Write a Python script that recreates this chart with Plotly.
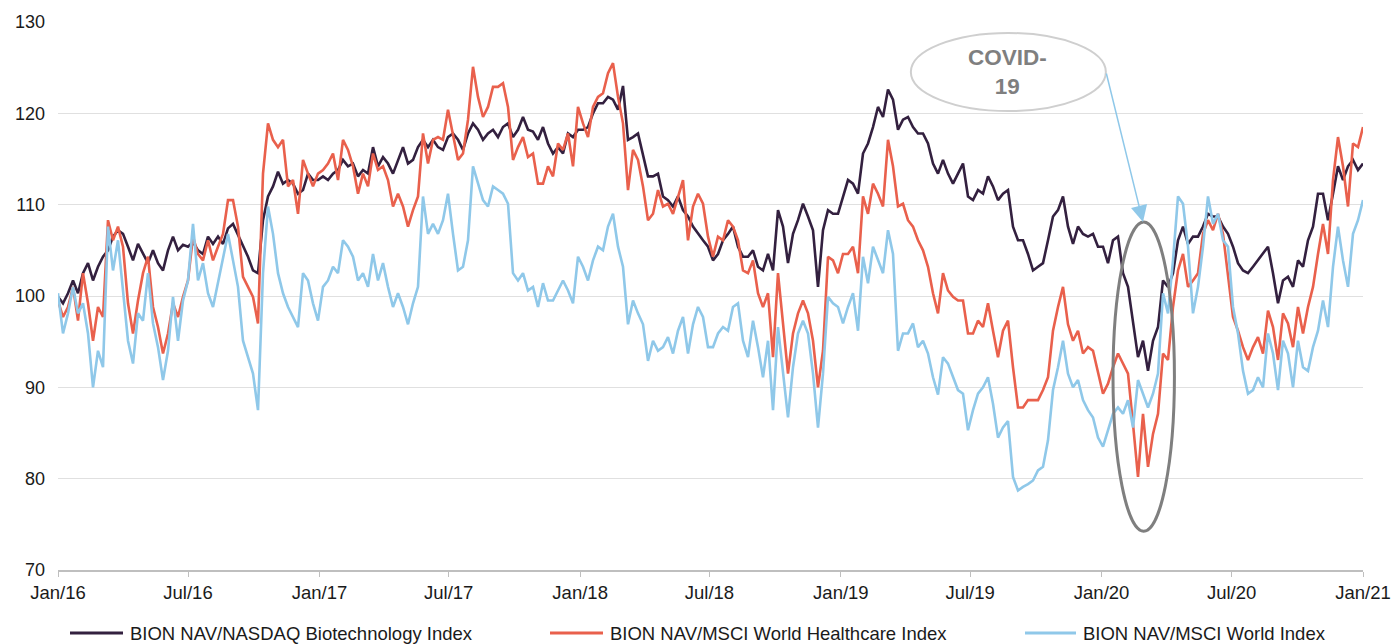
import pandas as pd
import plotly.graph_objects as go

# Weekly observations, 2016-01-01 .. 2021-01-01
start_date = "2016-01-01"
n_weeks = 262

series_names = [
    "BION NAV/NASDAQ Biotechnology Index",
    "BION NAV/MSCI World Healthcare Index",
    "BION NAV/MSCI World Index",
]

nasdaq_biotech = [
    99.9, 99.2, 100.3, 101.7, 100.3, 102.5, 103.6, 101.7, 103.2, 104.3,
    105.0, 106.5, 107.2, 106.8, 105.4, 103.9, 105.7, 104.6, 103.6, 105.0,
    103.6, 102.8, 105.0, 106.5, 105.0, 105.6, 105.4, 105.9, 105.0, 104.6,
    106.5, 105.7, 106.5, 105.7, 107.4, 107.9, 106.7, 105.4, 104.3, 102.8,
    102.5, 108.3, 110.9, 112.0, 113.6,
    112.3, 112.7, 112.3, 111.2, 111.6, 113.4, 112.7, 112.7, 113.1, 112.7,
    113.4, 113.8, 114.9, 114.2, 114.5, 113.1, 113.8, 113.4, 116.3, 114.2,
    115.2, 114.5, 113.4, 114.9, 116.3, 114.5, 114.9, 116.3, 117.1, 116.3,
    117.1, 116.3, 116.0, 117.4, 117.8, 117.1, 116.0, 117.8, 118.9, 118.2,
    117.1, 117.8, 118.2, 117.4,
    118.5, 118.9, 117.4, 118.2, 119.6, 118.2, 118.0, 117.1, 118.5, 116.7,
    115.6, 116.3, 115.6, 117.8, 117.4, 118.2, 118.2, 118.5, 120.0, 121.1,
    121.1, 121.8, 121.5, 120.4, 123.0, 117.1, 117.4, 117.8, 115.6, 113.1,
    113.1, 113.4, 110.9, 110.5, 109.8, 110.9, 109.4, 108.7, 107.6, 106.8,
    106.1, 105.4, 103.9, 104.6,
    106.1, 106.8, 107.6, 105.4, 104.3, 104.3, 105.0, 103.2, 102.8, 104.6,
    102.8, 109.4, 107.6, 103.6, 106.8, 108.3, 110.1, 108.7, 107.2, 101.0,
    107.2, 109.4, 109.0, 109.0, 110.9, 112.7, 112.3, 111.2, 115.6, 116.7,
    118.5, 120.7, 119.6, 122.6, 121.5, 118.2, 119.3, 119.6, 118.5, 117.8,
    117.8, 116.7, 114.5, 113.4,
    114.9, 113.4, 112.3, 113.4, 114.5, 110.9, 110.5, 111.6, 111.2, 113.1,
    112.0, 110.5, 111.2, 111.6, 107.6, 106.1, 106.1, 104.6, 102.8, 103.2,
    103.6, 106.1, 108.7, 109.4, 110.9, 107.6, 105.7, 107.6, 106.8, 106.5,
    106.8, 105.4, 105.4, 103.6, 106.1, 106.5, 102.5, 101.0, 97.0, 93.3,
    95.1, 91.8,
    95.1, 96.6, 101.7, 101.0, 102.5, 106.1, 107.6, 105.7, 106.5, 106.5,
    107.6, 109.0, 108.7, 108.7, 107.6, 106.8, 105.4, 103.6, 102.8, 102.5,
    103.2, 103.9, 104.6, 105.4, 102.5, 99.2, 101.7, 102.1, 101.0, 103.9,
    103.2, 106.1, 107.6, 111.2, 111.2, 108.3, 111.2, 114.2, 112.7, 114.2,
    114.9, 113.8, 114.5,
]

msci_healthcare = [
    99.5, 97.7, 98.8, 101.0, 97.3, 102.5, 99.2, 95.1, 98.8, 97.7,
    108.3, 106.1, 107.6, 105.4, 99.2, 95.9, 99.5, 102.5, 104.3, 98.8,
    96.6, 93.7, 95.9, 99.2, 97.7, 99.9, 101.7, 106.5, 104.6, 103.9,
    106.1, 103.9, 105.4, 106.8, 110.5, 110.5, 107.6, 102.1, 101.0, 99.9,
    97.0, 113.4, 118.9, 117.1, 116.3,
    117.1, 112.0, 112.7, 109.0, 114.9, 113.4, 112.0, 113.4, 113.8, 114.5,
    115.6, 112.7, 117.1, 116.0, 114.2, 111.2, 113.4, 112.0, 115.6, 113.8,
    114.2, 112.7, 109.8, 111.2, 109.8, 107.6, 109.4, 110.9, 117.8, 114.5,
    117.1, 117.4, 117.1, 120.4, 117.8, 114.9, 115.6, 119.3, 125.1, 121.8,
    119.6, 120.7, 122.9, 122.9,
    123.3, 120.7, 114.9, 116.3, 117.4, 115.2, 115.6, 112.3, 112.3, 114.2,
    113.1, 116.7, 116.0, 117.8, 114.2, 120.7, 118.9, 117.4, 120.7, 121.8,
    122.2, 124.4, 125.5, 121.8, 118.9, 111.6, 116.0, 114.9, 112.0, 108.3,
    109.0, 111.6, 109.8, 110.1, 109.0, 110.9, 112.7, 106.1, 109.8, 111.2,
    110.1, 106.5, 104.3, 106.5,
    106.1, 108.3, 107.6, 106.1, 102.8, 102.5, 103.9, 100.3, 98.8, 100.3,
    93.3, 102.5, 96.6, 91.5, 95.9, 98.1, 99.5, 98.1, 95.1, 90.0,
    94.0, 104.3, 103.9, 102.5, 104.6, 104.6, 105.4, 102.5, 110.9, 109.0,
    112.3, 111.2, 109.8, 117.1, 114.2, 109.8, 110.1, 108.3, 107.6, 106.1,
    105.0, 103.2, 100.3, 98.1,
    102.5, 100.6, 99.9, 99.5, 99.5, 95.9, 95.9, 97.3, 96.6, 99.2,
    96.2, 93.3, 96.2, 97.3, 92.2, 87.8, 87.8, 88.6, 88.6, 88.6,
    89.7, 91.1, 96.2, 98.8, 101.0, 96.9, 95.1, 96.2, 93.7, 94.4,
    94.0, 91.5, 89.3, 90.4, 92.2, 93.7, 92.6, 91.5, 86.0, 80.2,
    87.1, 81.3,
    84.9, 87.1, 93.7, 93.0, 98.8, 102.8, 104.6, 101.0, 101.7, 102.5,
    106.8, 108.3, 107.2, 109.0, 106.8, 102.5, 97.7, 96.2, 94.4, 93.0,
    94.4, 95.5, 93.7, 98.4, 96.6, 93.0, 98.1, 97.0, 94.4, 98.8,
    95.9, 98.8, 101.0, 104.6, 107.9, 104.6, 112.7, 117.4, 114.2, 109.8,
    116.7, 116.3, 118.5,
]

msci_world = [
    100.3, 95.9, 98.1, 101.0, 98.1, 99.2, 95.9, 90.0, 94.0, 92.2,
    107.6, 102.8, 106.1, 100.3, 95.1, 92.6, 98.1, 97.3, 102.5, 97.0,
    94.4, 90.8, 94.0, 99.9, 95.1, 99.5, 101.7, 107.9, 101.7, 103.6,
    100.3, 98.8, 101.4, 104.3, 106.8, 103.9, 101.0, 95.1, 93.3, 91.5,
    87.5, 102.5, 109.8, 106.8, 102.5,
    100.3, 98.8, 97.7, 96.6, 102.5, 101.7, 99.2, 97.3, 101.0, 101.7,
    103.2, 102.5, 106.1, 105.4, 104.3, 101.7, 102.5, 101.0, 104.6, 101.7,
    103.6, 101.0, 98.8, 100.3, 98.8, 96.9, 99.2, 101.0, 110.9, 106.8,
    107.9, 106.8, 108.3, 111.2, 106.8, 102.8, 103.2, 106.1, 114.2, 112.3,
    110.5, 109.8, 112.0, 111.6,
    111.2, 110.1, 102.5, 101.7, 102.5, 100.6, 101.0, 98.8, 101.4, 99.5,
    99.5, 100.6, 101.7, 100.6, 99.2, 104.3, 103.2, 101.7, 103.9, 105.4,
    105.0, 107.6, 109.0, 105.4, 103.2, 96.9, 99.5, 98.1, 96.9, 92.9,
    95.1, 94.0, 94.4, 95.5, 93.7, 96.2, 97.7, 93.7, 96.9, 98.8,
    97.7, 94.4, 94.4, 95.9,
    96.6, 96.2, 98.8, 99.2, 95.1, 93.3, 97.3, 94.4, 91.1, 95.1,
    87.5, 96.6, 91.8, 86.7, 92.2, 95.9, 97.3, 95.9, 91.5, 85.6,
    91.5, 99.9, 99.2, 98.8, 97.0, 98.8, 100.3, 96.2, 104.3, 101.4,
    105.4, 103.9, 102.5, 107.2, 104.6, 94.0, 95.9, 95.9, 97.0, 94.4,
    95.1, 93.7, 91.1, 89.2,
    93.3, 92.6, 91.1, 89.7, 89.3, 85.3, 87.5, 89.3, 90.0, 91.1,
    88.2, 84.5, 85.6, 86.3, 80.2, 78.7, 79.1, 79.4, 79.8, 80.9,
    81.3, 84.2, 89.7, 92.2, 95.1, 91.5, 90.0, 90.8, 88.6, 87.5,
    86.7, 84.5, 83.5, 85.3, 87.1, 87.8, 87.1, 88.6, 85.6, 90.8,
    89.3, 87.8,
    89.3, 91.5, 100.3, 98.1, 103.9, 110.9, 110.1, 105.4, 98.1, 101.0,
    105.4, 110.9, 107.9, 109.0, 106.1, 105.4, 98.8, 95.9, 91.8, 89.3,
    89.7, 91.1, 90.0, 95.9, 93.7, 89.7, 95.1, 93.7, 90.0, 95.1,
    92.2, 91.8, 94.4, 96.2, 99.5, 96.6, 103.2, 107.6, 103.9, 101.0,
    106.8, 108.3, 110.5,
]

dates = pd.date_range(start_date, periods=n_weeks, freq="7D")

colors = ["#33203f", "#e9604c", "#8fc8e9"]
all_series = [nasdaq_biotech, msci_healthcare, msci_world]

W, H = 1392, 644
L, T = 58, 22
PW, PH = 1305, 548
R = W - L - PW
B = H - T - PH


# conversions from pixel positions to paper coordinates
def px(x):
    return (x - L) / PW


def py(y):
    return (T + PH - y) / PH


fig = go.Figure()
for name, vals, col in zip(series_names, all_series, colors):
    fig.add_trace(go.Scatter(
        x=dates, y=vals, mode="lines", name=name,
        line=dict(color=col, width=2.6), showlegend=False,
    ))

FONT = "Liberation Sans, Arial, sans-serif"

shapes = []
annotations = []

# Manual legend (bottom)
LEG_Y = 633
legend_items = [(70, 123, 128), (550, 603, 608), (1025, 1076, 1081)]
for (x0, x1, xt), name, col in zip(legend_items, series_names, colors):
    shapes.append(dict(type="line", xref="paper", yref="paper",
                       x0=px(x0), x1=px(x1), y0=py(LEG_Y), y1=py(LEG_Y),
                       line=dict(color=col, width=3)))
    annotations.append(dict(text=name, xref="paper", yref="paper",
                            x=px(xt), y=py(LEG_Y), xanchor="left", yanchor="middle",
                            showarrow=False, font=dict(family=FONT, size=18.5, color="#1a1a1a")))

# COVID highlight ellipse
shapes.append(dict(type="circle", xref="x", yref="y",
                   x0="2020-01-17", x1="2020-04-12", y0=74.25, y1=108.1,
                   line=dict(color="#7f7f7f", width=3)))
# Callout ellipse
shapes.append(dict(type="circle", xref="x", yref="y",
                   x0="2019-04-09", x1="2020-01-07", y0=120.25, y1=128.8,
                   line=dict(color="#cfcfcf", width=2)))
annotations.append(dict(text="<b>COVID-<br>19</b>", xref="x", yref="y",
                        x="2019-08-22", y=124.55, showarrow=False,
                        font=dict(family=FONT, size=22.5, color="#7f7f7f")))
# Arrow from callout to ellipse
annotations.append(dict(text="", xref="x", yref="y", x="2020-02-28", y=108.1,
                        ax=-37, ay=-150, showarrow=True, arrowhead=2,
                        arrowsize=2.2, arrowwidth=1.5, arrowcolor="#8fc8e9",
                        standoff=0))

fig.update_layout(
    width=W, height=H,
    margin=dict(l=L, r=R, t=T, b=B, autoexpand=False),
    plot_bgcolor="white", paper_bgcolor="white",
    font=dict(family=FONT, size=18, color="#1a1a1a"),
    shapes=shapes, annotations=annotations,
    showlegend=False,
)
fig.update_xaxes(
    type="date", range=["2016-01-01", "2021-01-01"],
    tick0="2016-01-01", dtick="M6", tickformat="%b/%y",
    showgrid=False, showline=True, linecolor="#bfbfbf", linewidth=1.5,
    ticks="outside", ticklen=5, tickcolor="#bfbfbf",
    tickfont=dict(family=FONT, size=18.5, color="#1a1a1a"),
    zeroline=False, automargin=False,
)
fig.update_yaxes(
    range=[70, 130], dtick=10, tick0=70,
    showgrid=True, gridcolor="#e0e0e0", gridwidth=1,
    showline=False, zeroline=False, ticks="",
    ticklabelstandoff=12, automargin=False,
    tickfont=dict(family=FONT, size=18, color="#1a1a1a"),
)

fig.write_html(
    "out.html",
    config={"displayModeBar": False},
    post_script="document.body.style.margin='0';document.body.style.overflow='hidden';",
)
